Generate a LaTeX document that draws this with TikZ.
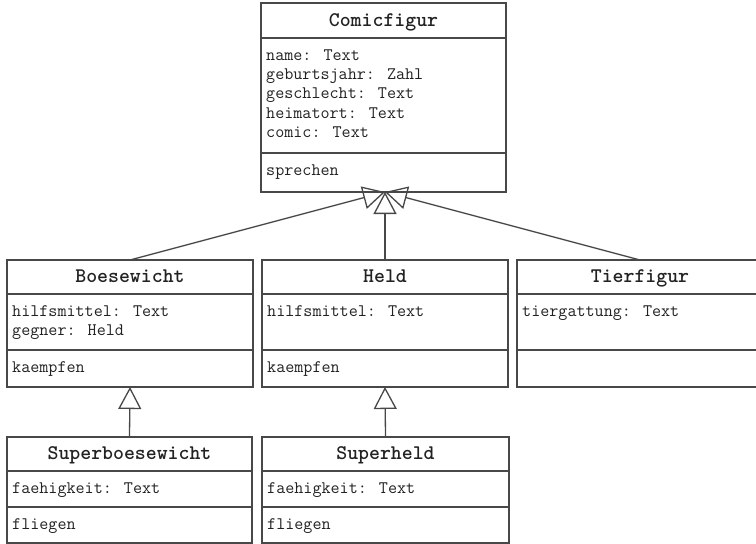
\documentclass[tikz,border=0pt]{standalone}
\usetikzlibrary{arrows.meta,fit}

\definecolor{umlline}{HTML}{484848}
\definecolor{umltext}{HTML}{222222}

\tikzset{
  classframe/.style={draw=umlline, line width=1.4pt, inner sep=0pt, outer sep=0pt},
  divider/.style={draw=umlline, line width=1.3pt},
  classtitle/.style={anchor=base, inner sep=0pt, text=umltext,
    font=\fontsize{20.8}{22}\selectfont\ttfamily\bfseries},
  member/.style={anchor=base west, inner sep=0pt, text=umltext,
    font=\fontsize{17.6}{19.4}\selectfont\ttfamily},
  generalization/.style={draw=umlline, line width=1.3pt,
    -{Triangle[open, length=22pt, width=23pt]}},
}

% #1 name, #2 left, #3 right, #4 top, #5 first divider, #6 second divider, #7 bottom, #8 title
\newcommand\umlclass[8]{%
  \node[classframe, fit={(#2,#4) (#3,#7)}] (#1) {};
  \draw[divider] (#2,#5) -- (#3,#5);
  \draw[divider] (#2,#6) -- (#3,#6);
  \node[classtitle] (#1-title) at ({(#2+#3)/2},{(#4+#5)/2+5.5}) {#8};
}

% #1 name prefix, #2 box left, #3 compartment top, #4 lines
\newcommand\umlmembers[4]{%
  \foreach \txt [count=\k] in {#4}
    \node[member] (#1-\k) at ({#2+5},{#3+22+(\k-1)*19.4}) {\txt};
}

\begin{document}
\begin{tikzpicture}[x=1pt, y=-1pt]
  \useasboundingbox (0,0) rectangle (756,544);
  \fill[white] (0,0) rectangle (756,544);

  % superclass
  \umlclass{comic}{261}{506}{3}{38}{153}{192}{Comicfigur}
  \umlmembers{comic-attr}{261}{38}{name: Text, geburtsjahr: Zahl, geschlecht: Text, heimatort: Text, comic: Text}
  \umlmembers{comic-op}{261}{153}{sprechen}

  % direct subclasses
  \umlclass{boese}{7}{253}{260}{294}{350}{387}{Boesewicht}
  \umlmembers{boese-attr}{7}{294}{hilfsmittel: Text, gegner: Held}
  \umlmembers{boese-op}{7}{350}{kaempfen}

  \umlclass{held}{262}{508}{260}{294}{350}{387}{Held}
  \umlmembers{held-attr}{262}{294}{hilfsmittel: Text}
  \umlmembers{held-op}{262}{350}{kaempfen}

  \umlclass{tier}{517}{763}{260}{294}{350}{387}{Tierfigur}
  \umlmembers{tier-attr}{517}{294}{tiergattung: Text}

  % second-level subclasses
  \umlclass{sboese}{7}{252}{437}{471}{507}{543}{Superboesewicht}
  \umlmembers{sboese-attr}{7}{471}{faehigkeit: Text}
  \umlmembers{sboese-op}{7}{507}{fliegen}

  \umlclass{sheld}{262}{509}{437}{471}{507}{543}{Superheld}
  \umlmembers{sheld-attr}{262}{471}{faehigkeit: Text}
  \umlmembers{sheld-op}{262}{507}{fliegen}

  % inheritance arrows
  \coordinate (hub) at (held.north |- comic.south);
  \draw[generalization] (boese.north) -- (hub);
  \draw[generalization] (tier.north) -- (hub);
  \draw[generalization] (held.north) -- (hub);
  \draw[generalization] (sboese.north) -- (boese.south);
  \draw[generalization] (sheld.north) -- (held.south);
\end{tikzpicture}
\end{document}
